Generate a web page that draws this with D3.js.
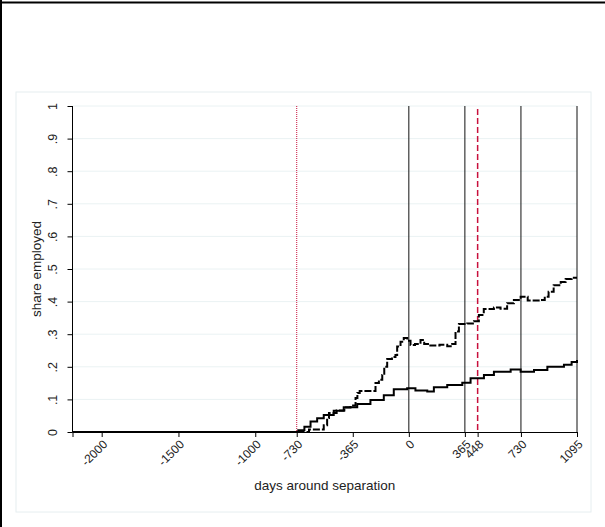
<!DOCTYPE html>
<html>
<head>
<meta charset="utf-8">
<script src="https://cdn.jsdelivr.net/npm/d3@7"></script>
<style>
  body { margin: 0; background: #fff; }
  svg { font-family: "Liberation Sans", Arial, sans-serif; }
</style>
</head>
<body>
<div id="chart"></div>
<script>
// step data: [day, share]
const daysA = [-2190, -650, -554, -532, -520, -470, -420, -380, -347, -335, -320, -217, -195, -173, -160, -141, -110, -87, -76, -54, -33, -10, 11, 40, 76, 100, 140, 200, 250, 282, 304, 326, 380, 424, 456, 488, 554, 597, 640, 684, 728, 774, 860, 885, 910, 943, 989, 1021, 1060, 1095];
const shareA = [0, 0.008, 0.021, 0.043, 0.058, 0.066, 0.075, 0.081, 0.104, 0.12, 0.126, 0.15, 0.16, 0.175, 0.2, 0.224, 0.23, 0.236, 0.262, 0.277, 0.288, 0.28, 0.267, 0.27, 0.282, 0.27, 0.265, 0.268, 0.263, 0.27, 0.308, 0.331, 0.333, 0.34, 0.359, 0.377, 0.382, 0.378, 0.395, 0.405, 0.415, 0.403, 0.405, 0.415, 0.43, 0.45, 0.46, 0.469, 0.473, 0.473];

const daysB = [-2190, -720, -680, -640, -597, -554, -489, -424, -336, -250, -163, -98, -11, 43, 120, 163, 250, 348, 402, 489, 554, 663, 728, 815, 902, 1010, 1060, 1095];
const shareB = [0, 0.005, 0.016, 0.032, 0.042, 0.052, 0.065, 0.076, 0.086, 0.098, 0.113, 0.131, 0.134, 0.127, 0.124, 0.137, 0.144, 0.151, 0.165, 0.175, 0.185, 0.192, 0.185, 0.19, 0.2, 0.206, 0.215, 0.221];

const xTicks = [-2000, -1500, -1000, -730, -365, 0, 365, 448, 730, 1095];
const yTicks = [0, 0.1, 0.2, 0.3, 0.4, 0.5, 0.6, 0.7, 0.8, 0.9, 1];
const blackLines = [0, 365, 730, 1095];
const dottedLine = -730;
const dashedLine = 448;

const width = 605, height = 527;
const x = d3.scaleLinear().domain([-2190, 1095]).range([72.5, 577]);
const y = d3.scaleLinear().domain([0, 1]).range([432, 106]);
const red = "#c8103c";

const svg = d3.select("#chart").append("svg")
    .attr("width", width)
    .attr("height", height);

// outer border (only left and top visible)
svg.append("line").attr("x1", 1).attr("x2", 1).attr("y1", 0).attr("y2", height)
    .attr("stroke", "#000").attr("stroke-width", 2);
svg.append("line").attr("x1", 0).attr("x2", width).attr("y1", 2.5).attr("y2", 2.5)
    .attr("stroke", "#000").attr("stroke-width", 2);

// graph region frame
svg.append("rect")
    .attr("x", 16).attr("y", 92).attr("width", 575).attr("height", 420)
    .attr("fill", "none").attr("stroke", "#e6eef0");

// gridlines
svg.append("g")
  .selectAll("line")
  .data(yTicks.slice(1))
  .join("line")
    .attr("x1", x.range()[0]).attr("x2", x.range()[1])
    .attr("y1", d => y(d)).attr("y2", d => y(d))
    .attr("stroke", "#eaf2f3");

// reference lines
svg.append("g")
  .selectAll("line")
  .data(blackLines)
  .join("line")
    .attr("x1", d => x(d)).attr("x2", d => x(d))
    .attr("y1", y(1)).attr("y2", y(0))
    .attr("stroke", "#111").attr("stroke-width", 1);

svg.append("line")
    .attr("x1", x(dottedLine)).attr("x2", x(dottedLine))
    .attr("y1", y(1)).attr("y2", y(0))
    .attr("stroke", red).attr("stroke-width", 1)
    .attr("stroke-dasharray", "1,1");

svg.append("line")
    .attr("x1", x(dashedLine)).attr("x2", x(dashedLine))
    .attr("y1", y(1) + 3).attr("y2", y(0))
    .attr("stroke", red).attr("stroke-width", 1.5)
    .attr("stroke-dasharray", "6,3");

// series
const line = d3.line()
    .x(d => x(d[0]))
    .y(d => y(d[1]))
    .curve(d3.curveStepAfter);

svg.append("path")
    .datum(daysB.map((d, i) => [d, shareB[i]]))
    .attr("fill", "none")
    .attr("stroke", "#000")
    .attr("stroke-width", 2)
    .attr("d", line);

svg.append("path")
    .datum(daysA.map((d, i) => [d, shareA[i]]))
    .attr("fill", "none")
    .attr("stroke", "#000")
    .attr("stroke-width", 2)
    .attr("stroke-dasharray", "7,2")
    .attr("d", line);

// axes
const xAxis = svg.append("g")
    .attr("transform", `translate(0,${y(0)})`)
    .call(d3.axisBottom(x).tickValues(xTicks).tickSize(5).tickFormat(d => String(d)));
xAxis.select(".domain").attr("stroke", "#000");
xAxis.selectAll("text")
    .attr("font-size", 12)
    .attr("fill", "#222")
    .attr("text-anchor", "end")
    .attr("x", 0).attr("y", 0)
    .attr("dy", "0.35em")
    .attr("transform", "translate(3,10) rotate(-45)");

const yAxis = svg.append("g")
    .attr("transform", `translate(${x.range()[0]},0)`)
    .call(d3.axisLeft(y).tickValues(yTicks).tickSize(5)
      .tickFormat(d => d === 0 ? "0" : d === 1 ? "1" : d3.format(".1f")(d).replace(/^0/, "")));
yAxis.select(".domain").attr("stroke", "#000").attr("d", `M0,${y(1)}V${y(0)}`);
yAxis.selectAll("text")
    .attr("font-size", 12.5)
    .attr("fill", "#222")
    .attr("x", null).attr("dy", null)
    .attr("text-anchor", "middle")
    .attr("transform", "translate(-15.5,0) rotate(-90)");

// titles
svg.append("text")
    .attr("x", (x.range()[0] + x.range()[1]) / 2)
    .attr("y", 490)
    .attr("text-anchor", "middle")
    .attr("font-size", 13.5)
    .attr("fill", "#222")
    .text("days around separation");

svg.append("text")
    .attr("transform", `translate(41,${(y(0) + y(1)) / 2}) rotate(-90)`)
    .attr("text-anchor", "middle")
    .attr("font-size", 13.5)
    .attr("fill", "#222")
    .text("share employed");
</script>
</body>
</html>
